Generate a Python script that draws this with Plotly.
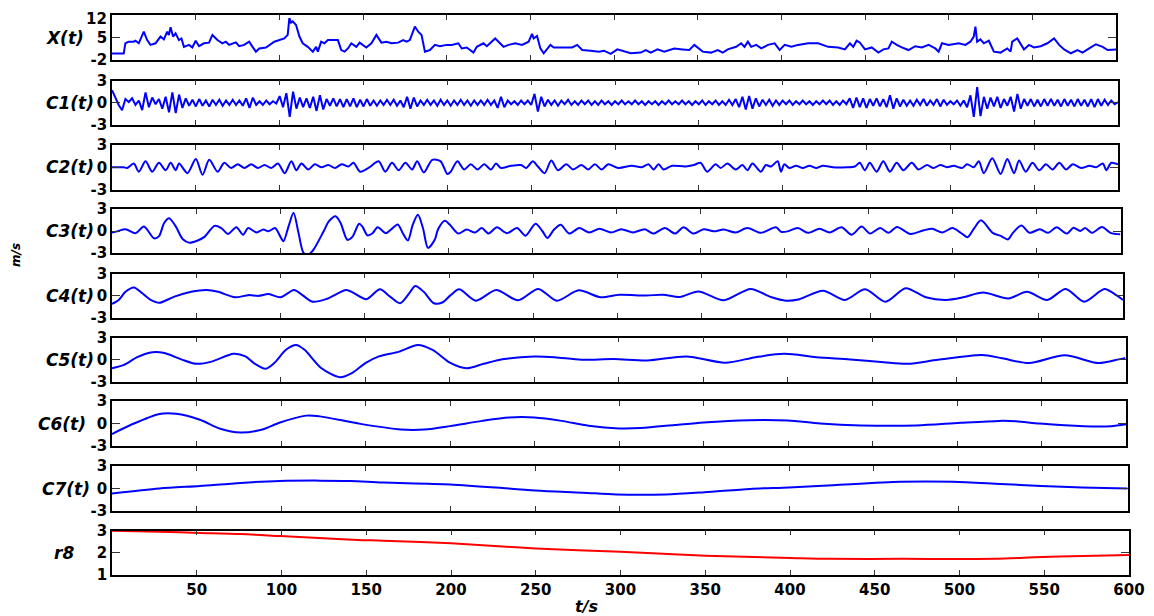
import plotly.graph_objects as go

# ---------------- data ----------------
x_t = [0, 7, 8, 10, 13, 14, 16, 19, 21, 23, 26, 29, 31, 33, 34, 35, 36.5, 38, 40, 41.5, 43, 46, 48, 50, 52, 55, 58, 60,
       63, 66, 68, 70, 74, 76, 79, 82, 84, 86, 88, 92, 97, 103, 105, 106, 107, 108, 110, 112, 114, 117, 120, 122, 123,
       125, 127, 129, 135, 137, 139, 141, 143, 146, 148, 150, 152, 155, 158, 161, 164, 167, 171, 174, 176, 178, 180,
       181, 183, 185, 187, 190, 193, 196, 200, 203, 207, 209, 212, 216, 218, 222, 224, 227, 229, 231, 234, 237, 241,
       245, 247, 249, 251, 252, 254, 256, 258, 260, 262, 264, 270, 275, 278, 281, 286, 291, 294, 298, 302, 306, 310,
       316, 319, 322, 326, 330, 336, 341, 345, 348, 353, 358, 362, 365, 368, 373, 376, 378, 380, 382, 385, 388, 392,
       396, 399, 402, 406, 410, 416, 422, 428, 434, 438, 441, 443, 445, 447, 450, 454, 458, 461, 464, 466, 469, 472,
       476, 480, 484, 488, 492, 494, 496, 500, 506, 510, 513, 515, 516, 517, 519, 521, 524, 527, 531, 535, 537, 538,
       541, 543, 545, 548, 551, 555, 559, 563, 566, 569, 573, 577, 580, 584, 588, 592, 595, 600]
x_v = [0, 0, 3.2, 3.7, 3.7, 4.0, 3.2, 6.8, 4.2, 2.7, 3.2, 5.3, 4.4, 6.8, 5.8, 8.2, 5.3, 6.3, 4.2, 4.7, 2.1, 2.7, 1.9, 4.0,
       2.3, 3.2, 3.4, 5.8, 4.2, 3.2, 3.7, 2.7, 3.5, 2.3, 2.7, 3.7, 2.1, 0.6, 1.6, 1.9, 3.7, 4.7, 5.8, 11.0, 9.6, 10.0,
       8.9, 5.3, 3.2, 2.1, 0.6, 2.1, 0.6, 3.7, 3.2, 4.2, 4.2, 1.1, 0.6, 1.6, 3.2, 2.1, 3.4, 2.6, 1.9, 3.2, 5.8, 3.4,
       3.7, 3.2, 3.4, 4.2, 3.7, 4.2, 7.3, 8.4, 6.8, 5.8, 0.6, 1.1, 2.7, 2.3, 2.7, 2.7, 3.2, 1.6, 1.9, 0.3, 2.1, 3.2,
       2.3, 3.7, 4.7, 3.7, 2.1, 2.7, 3.2, 2.7, 3.2, 3.7, 6.1, 4.7, 5.5, 1.6, 0.1, 1.6, 2.7, 1.9, 1.9, 1.9, 2.7, 1.1,
       0.9, 0.6, 0.9, -0.1, 1.3, 0.6, 0.1, 0.3, 1.1, 0.3, 1.3, 0.6, 1.6, 1.3, 1.1, 2.7, 0.6, 0.3, 1.1, 0.3, 1.3, 2.1,
       3.2, 2.1, 3.7, 2.1, 2.7, 1.6, 2.7, 3.2, 1.1, 2.7, 2.1, 2.7, 3.2, 3.2, 2.1, 1.9, 1.3, 3.2, 2.1, 4.0, 3.4, 1.3,
       1.9, 0.3, 1.3, 1.6, 3.7, 2.7, 1.9, 1.1, 2.3, 1.9, 2.7, 1.6, 0.6, 3.2, 2.7, 3.2, 2.7, 3.7, 5.3, 8.4, 3.7, 4.4,
       3.2, 4.0, 0.6, 0.3, 1.6, 0.6, 3.7, 4.7, 3.2, 1.3, 2.7, 1.9, 2.3, 3.2, 4.7, 2.7, 1.3, 0.1, 1.1, 0.3, 1.6, 2.9,
       2.1, 1.1, 1.3]

c1_t = list(range(0, 601, 2))
c1_v = [1.7, 0.6, -0.3, -1.0, 0.5, 0.1, 0.6, -0.3, 0.3, -1.0,
        1.4, -0.6, 0.7, -0.2, 0.5, -0.8, 0.8, -1.3, 1.4, -1.4,
        1.1, -0.7, 0.6, -0.4, 0.4, -0.5, 0.5, -0.4, 0.3, -0.5,
        0.4, -0.3, 0.4, -0.4, 0.3, -0.3, 0.4, -0.3, 0.3, -0.4,
        0.6, -0.7, 0.7, -0.3, 0.2, -0.3, 0.3, -0.2, 0.2, -0.1,
        0.9, -0.6, 1.3, -1.9, 1.5, -0.8, 0.7, -0.6, 0.6, -0.7,
        0.8, -1.1, 1.0, -0.9, 0.5, -0.4, 0.6, -0.5, 0.5, -0.6,
        0.5, -0.5, 0.6, -0.6, 0.4, -0.5, 0.5, -0.4, 0.3, -0.4,
        0.3, -0.3, 0.4, -0.3, 0.4, -0.4, 0.3, -0.6, 0.8, -0.8,
        0.7, -0.5, 0.3, -0.3, 0.4, -0.3, 0.3, -0.4, 0.4, -0.3,
        0.3, -0.4, 0.3, -0.3, 0.4, -0.3, 0.3, -0.4, 0.3, -0.3,
        0.3, -0.3, 0.4, -0.3, 0.3, -0.7, 0.8, -0.6, 0.3, -0.2,
        0.2, -0.3, 0.3, -0.2, 0.3, -0.3, 1.2, -1.2, 0.8, -0.5,
        0.4, -0.3, 0.3, -0.4, 0.3, -0.2, 0.4, -0.3, 0.2, -0.3,
        0.3, -0.2, 0.3, -0.3, 0.2, -0.3, 0.3, -0.2, 0.2, -0.3,
        0.2, -0.2, 0.3, -0.2, 0.2, -0.2, 0.3, -0.2, 0.2, -0.3,
        0.2, -0.2, 0.2, -0.3, 0.2, -0.2, 0.3, -0.2, 0.2, -0.2,
        0.3, -0.2, 0.2, -0.3, 0.2, -0.2, 0.3, -0.3, 0.2, -0.2,
        0.3, -0.3, 0.2, -0.3, 0.4, -0.3, 0.5, -0.6, 0.8, -0.9,
        0.9, -0.8, 0.6, -0.5, 0.4, -0.3, 0.4, -0.4, 0.3, -0.3,
        0.3, -0.2, 0.3, -0.3, 0.2, -0.2, 0.3, -0.2, 0.2, -0.3,
        0.2, -0.2, 0.3, -0.2, 0.3, -0.3, 0.2, -0.3, 0.3, -0.2,
        0.6, -0.7, 0.7, -0.6, 0.6, -0.7, 0.5, -0.4, 0.6, -0.5,
        0.5, -0.6, 1.0, -0.8, 0.6, -0.5, 0.4, -0.4, 0.3, -0.4,
        0.4, -0.3, 0.5, -0.4, 0.3, -0.3, 0.5, -0.5, 0.4, -0.3,
        0.2, -0.2, 0.3, -0.4, 0.3, -0.6, 1.0, -1.9, 2.1, -1.8,
        0.8, -0.8, 0.7, -0.5, 0.8, -0.7, 0.5, -0.4, 0.8, -1.2,
        1.2, -0.8, 0.5, -0.4, 0.5, -0.5, 0.4, -0.5, 0.5, -0.4,
        0.5, -0.4, 0.4, -0.5, 0.5, -0.4, 0.4, -0.5, 0.5, -0.4,
        0.4, -0.5, 0.5, -0.6, 0.5, -0.4, 0.4, -0.3, 0.3, -0.2,
        0.1]

c2_t = [0, 7, 9, 13, 16, 20, 24, 28, 32, 35, 38, 40, 45, 50, 54, 58, 63, 67, 71, 75, 79, 83, 87, 91, 95, 99, 103, 107,
        110, 113, 117, 121, 125, 129, 133, 137, 141, 144, 148, 153, 159, 163, 167, 171, 175, 179, 182, 186, 191, 196,
        200, 202, 206, 210, 214, 218, 222, 226, 229, 232, 238, 244, 247, 251, 254, 258, 262, 266, 271, 275, 280, 284,
        288, 292, 296, 302, 310, 316, 320, 323, 326, 329, 334, 342, 347, 351, 355, 360, 363, 367, 372, 376, 379, 382,
        387, 390, 393, 397, 399, 401, 404, 408, 412, 416, 420, 424, 430, 438, 443, 446, 449, 452, 456, 460, 464, 468,
        472, 477, 481, 486, 490, 494, 498, 502, 507, 510, 514, 517, 520, 525, 530, 534, 538, 541, 545, 549, 553, 557,
        561, 565, 569, 573, 578, 583, 587, 591, 593, 596, 600]
c2_v = [0, 0, -0.1, 0.5, -0.6, 0.8, -0.6, 0.6, -0.4, 0.6, -0.4, 0.5, -0.8, 1.1, -1.0, 1.0, -0.6, 0.6, -0.1, 0.4, -0.1,
        0.4, -0.1, 0.3, -0.1, 0.5, -0.8, 0.8, -0.4, 0.5, -0.3, 0.4, 0.0, 0.3, -0.1, 0.4, 0.1, 0.6, -0.6, -0.1, 0.8,
        -0.6, 0.6, -0.4, 0.6, -0.3, 0.8, -0.7, 1.0, 0.8, -0.9, -0.6, 0.8, -0.3, 0.4, -0.3, 0.4, -0.3, 0.5, -0.1, 0.2,
        0.3, -0.1, 0.8, 0.1, -0.8, 0.9, -0.4, 0.4, -0.3, 0.3, -0.3, 0.4, -0.3, 0.4, -0.1, 0.2, 0.0, 0.4, -0.3, 0.4,
        -0.3, 0.2, 0.1, 0.3, 0.6, -0.6, 0.4, -0.1, 0.5, -0.3, 0.3, -0.4, 0.5, -0.6, 0.3, 0.1, 0.8, -0.6, 0.4, -0.1,
        0.2, -0.1, 0.2, -0.1, 0.2, 0.0, 0.0, 0.1, 0.6, -0.4, 0.6, -0.6, 0.8, -0.6, 0.6, -0.4, 0.6, -0.3, 0.3, -0.1,
        0.3, 0.0, 0.2, -0.1, 0.4, 0.0, 0.8, -0.8, 1.2, -0.9, 1.1, -0.8, 0.9, -0.6, 0.6, -0.4, 0.4, -0.3, 0.6, -0.3,
        0.4, -0.1, 0.2, 0.0, 0.5, -0.4, 0.6, 0.4]

c3_t = [0, 3, 8, 14, 19, 25, 28, 31, 34, 38, 42, 46, 51, 55, 61, 65, 69, 74, 78, 81, 86, 90, 93, 97, 100, 102, 105, 108,
        111, 114, 117, 120, 126, 129, 133, 136, 140, 143, 147, 149, 152, 155, 158, 163, 166, 170, 173, 176, 179, 182,
        185, 188, 192, 194, 198, 201, 206, 211, 216, 220, 224, 229, 235, 241, 246, 252, 256, 259, 263, 267, 272, 278,
        284, 290, 297, 303, 310, 317, 322, 329, 335, 340, 346, 352, 358, 364, 371, 378, 386, 395, 398, 402, 408, 414,
        421, 427, 434, 440, 446, 451, 457, 462, 467, 475, 483, 488, 494, 500, 505, 509, 513, 517, 524, 529, 533, 536,
        541, 546, 552, 557, 562, 568, 572, 576, 579, 583, 589, 594, 600]
c3_v = [-0.2, -0.05, 0.25, -0.3, 0.6, -1.0, -0.7, 1.1, 1.75, 0.6, -1.1, -1.6, -1.3, -0.8, 0.7, 0.4, -0.4, 0.5, -0.5,
        0.4, -0.2, 0.2, -0.05, 0.4, -0.7, -1.4, 0.6, 2.5, -0.3, -3.0, -3.2, -2.5, 0.0, 1.3, 2.0, 1.1, -1.2, -0.8, 1.0,
        0.6, -0.6, -0.3, 0.5, -0.3, 0.2, 0.9, -0.3, -1.3, 0.9, 2.2, 0.4, -2.3, -1.2, 0.25, 1.4, 0.85, -0.35, 0.2,
        -0.2, 0.4, -0.35, 0.5, -0.3, 0.4, -0.65, 1.0, 0.0, -0.95, 0.2, 0.85, -0.35, 0.4, -0.2, 0.3, -0.2, 0.25, -0.2,
        0.25, -0.35, 0.4, -0.35, 0.5, -0.35, 0.25, -0.05, 0.2, -0.2, 0.4, -0.25, 0.5, -0.1, -0.05, 0.4, -0.25, 0.3,
        -0.2, 0.5, -0.5, 0.6, -0.35, 0.4, -0.25, 0.55, -0.4, 0.1, 0.3, -0.2, 0.4, -0.25, -0.85, 0.4, 1.45, -0.25,
        -0.7, -1.15, -0.25, 0.75, -0.25, 0.25, -0.25, 0.5, -0.35, 0.45, 0.0, 0.4, -0.25, 0.55, -0.25, -0.45]

c4_t = [0, 4, 8, 13, 18, 23, 28, 37, 47, 56, 63, 73, 81, 87, 93, 100, 108, 113, 119, 127, 139, 143, 151, 159, 165, 171,
        177, 180, 185, 191, 196, 201, 206, 216, 228, 241, 253, 264, 277, 290, 301, 317, 327, 337, 348, 363, 379, 391,
        400, 408, 422, 435, 447, 459, 471, 483, 495, 505, 517, 532, 543, 555, 566, 577, 589, 596, 600]
c4_v = [-1.15, -0.6, 0.5, 1.1, 0.3, -0.6, -1.0, -0.15, 0.5, 0.75, 0.5, -0.25, 0.05, -0.05, 0.2, -0.25, 0.75, 0.05,
        -0.85, -0.5, 0.75, 0.4, -0.5, 0.85, -0.15, -1.05, 0.5, 1.3, 0.5, -1.05, -0.95, 0.05, 0.85, -0.7, 0.75, -0.65,
        0.9, -0.7, 0.7, -0.25, 0.1, 0.0, 0.1, -0.2, 0.55, -0.65, 0.9, -0.2, -0.7, -0.5, 0.65, -0.6, 0.85, -0.85, 1.0,
        -0.25, -0.6, -0.25, 0.4, -0.4, 0.5, -0.6, 0.9, -0.85, 0.9, 0.05, -0.6]

c5_t = [0, 7, 15, 24, 31, 41, 50, 59, 72, 79, 84, 91, 96, 103, 109, 114, 124, 135, 142, 150, 158, 170, 181, 190, 200,
        210, 220, 232, 250, 262, 278, 297, 317, 340, 363, 381, 398, 417, 437, 457, 471, 489, 515, 527, 543, 564, 584,
        596, 600]
c5_v = [-1.15, -0.7, 0.35, 1.0, 0.9, 0.05, -0.55, -0.25, 0.8, 0.45, -0.45, -1.2, -0.45, 1.35, 2.0, 1.35, -1.15, -2.35,
        -1.8, -0.45, 0.45, 1.1, 2.0, 1.3, -0.4, -1.15, -0.55, 0.1, 0.45, 0.35, 0.0, 0.1, -0.1, 0.45, -0.4, 0.35, 0.8,
        0.35, 0.05, -0.35, -0.55, 0.0, 0.65, 0.2, -0.45, 0.6, -0.45, 0.05, 0.25]

c6_t = [0, 11, 28, 38, 52, 64, 76, 89, 99, 115, 123, 147, 171, 185, 200, 219, 235, 250, 266, 282, 300, 313, 333, 350,
        377, 400, 419, 443, 476, 502, 525, 535, 549, 575, 591, 600]
c6_v = [-1.4, -0.2, 1.27, 1.3, 0.5, -0.7, -1.2, -0.8, 0.1, 1.05, 0.95, -0.05, -0.8, -0.8, -0.35, 0.35, 0.8, 0.8, 0.35,
        -0.3, -0.65, -0.6, -0.2, 0.15, 0.45, 0.4, 0.0, -0.25, -0.25, 0.1, 0.35, 0.3, 0.0, -0.35, -0.35, -0.1]

c7_t = [0, 28, 52, 76, 99, 123, 141, 160, 200, 250, 278, 298, 327, 350, 377, 400, 426, 466, 497, 525, 549, 573, 600]
c7_v = [-0.67, 0.0, 0.35, 0.75, 1.0, 1.05, 1.0, 0.8, 0.55, -0.25, -0.55, -0.8, -0.8, -0.5, -0.05, 0.15, 0.45, 0.9, 0.9,
        0.6, 0.35, 0.15, 0.0]

r8_t = [0, 28, 52, 76, 99, 122, 145, 160, 200, 250, 300, 350, 400, 423, 466, 521, 544, 573, 600]
r8_v = [3.0, 2.95, 2.9, 2.85, 2.76, 2.67, 2.58, 2.55, 2.43, 2.2, 2.05, 1.87, 1.77, 1.73, 1.73, 1.73, 1.8, 1.86, 1.9]

row_names = ["X(t)", "C1(t)", "C2(t)", "C3(t)", "C4(t)", "C5(t)", "C6(t)", "C7(t)", "r8"]
series_t = [x_t, c1_t, c2_t, c3_t, c4_t, c5_t, c6_t, c7_t, r8_t]
series_v = [x_v, c1_v, c2_v, c3_v, c4_v, c5_v, c6_v, c7_v, r8_v]
y_ticks = [[-2, 5, 12]] + [[-3, 0, 3]] * 7 + [[1, 2, 3]]
y_tick_text = [["-2", "5", "12"]] + [["-3", "0", "3"]] * 7 + [["1", "2", "3"]]
x_ticks = [50, 100, 150, 200, 250, 300, 350, 400, 450, 500, 550, 600]

# ---------------- layout geometry (window pixels; page body adds an 8px offset) ----------------
OFF = 8
W, H = 1154 - OFF, 616 - OFF
left_px = 112
panel_top = [15, 80.5, 145, 209, 273.5, 337.5, 401, 466, 530.7]
panel_bot = [60, 125, 189.5, 253, 317.5, 382, 446, 511, 575]
panel_right = [1116, 1118, 1118, 1120.5, 1123, 1125.5, 1126, 1127.5, 1129]
label_right = [86, 96, 96, 96, 96, 96, 88, 92, 76]
colors = ["#0000FF"] * 8 + ["#FF0000"]
shapes_line = ["linear", "linear", "spline", "spline", "spline", "spline", "spline", "spline", "spline"]


def fx(px):
    return (px - OFF) / W


def fy(py):
    return 1 - (py - OFF) / H


tick_font = dict(family="DejaVu Sans", size=15, color="black", weight="bold")
lab_font = dict(family="DejaVu Sans", size=17, color="black", weight="bold", style="italic")

fig = go.Figure()
layout = dict(
    width=W, height=H, margin=dict(l=0, r=0, t=0, b=0, pad=0, autoexpand=False),
    paper_bgcolor="white", plot_bgcolor="white", showlegend=False,
)
annotations = []
for i in range(9):
    n = "" if i == 0 else str(i + 1)
    fig.add_trace(go.Scatter(
        x=series_t[i], y=series_v[i], mode="lines",
        line=dict(color=colors[i], width=2, shape=shapes_line[i], smoothing=0.8),
        xaxis="x" + n, yaxis="y" + n, hoverinfo="skip",
    ))
    yr = [y_ticks[i][0], y_ticks[i][-1]]
    tt = list(y_tick_text[i])
    if i == 0:
        # the top label sits at the very top edge of the page; it is drawn as an annotation below
        tt[-1] = ""
    layout["xaxis" + n] = dict(
        domain=[fx(left_px), fx(panel_right[i])], range=[0, 600], anchor="y" + n,
        showline=True, linecolor="black", linewidth=1.5, mirror="ticks",
        ticks="inside", ticklen=5, tickwidth=1, tickcolor="#333333",
        tickvals=x_ticks, ticktext=[str(v) for v in x_ticks],
        showticklabels=(i == 8), tickfont=tick_font, automargin=False, ticklabeloverflow="allow",
        showgrid=False, zeroline=False, fixedrange=True,
    )
    layout["yaxis" + n] = dict(
        domain=[fy(panel_bot[i]), fy(panel_top[i])], range=yr, anchor="x" + n,
        showline=True, linecolor="black", linewidth=1.5, mirror="ticks",
        ticks="inside", ticklen=8, tickwidth=1, tickcolor="#333333",
        tickvals=y_ticks[i], ticktext=tt, tickfont=tick_font, automargin=False,
        ticklabeloverflow="allow",
        showgrid=False, zeroline=False, fixedrange=True,
    )
    yc = (panel_top[i] + panel_bot[i]) / 2
    annotations.append(dict(
        text=row_names[i], x=fx(label_right[i]), y=fy(yc), xref="paper", yref="paper",
        xanchor="right", yanchor="middle", showarrow=False, font=lab_font,
    ))

annotations.append(dict(text=y_tick_text[0][-1], x=fx(108), y=fy(8.5), xref="paper", yref="paper",
                        xanchor="right", yanchor="top", showarrow=False, font=tick_font,
                        borderpad=0))
annotations.append(dict(text="m/s", x=fx(16), y=fy(255), xref="paper", yref="paper",
                        xanchor="center", yanchor="middle", showarrow=False, textangle=-90,
                        font=dict(family="DejaVu Sans", size=12, color="black", weight="bold", style="italic")))
annotations.append(dict(text="t/s", x=fx(587), y=fy(606), xref="paper", yref="paper",
                        xanchor="center", yanchor="middle", showarrow=False,
                        font=dict(family="DejaVu Sans", size=16, color="black", weight="bold", style="italic")))
layout["annotations"] = annotations
fig.update_layout(**layout)
fig.write_html("out.html")
